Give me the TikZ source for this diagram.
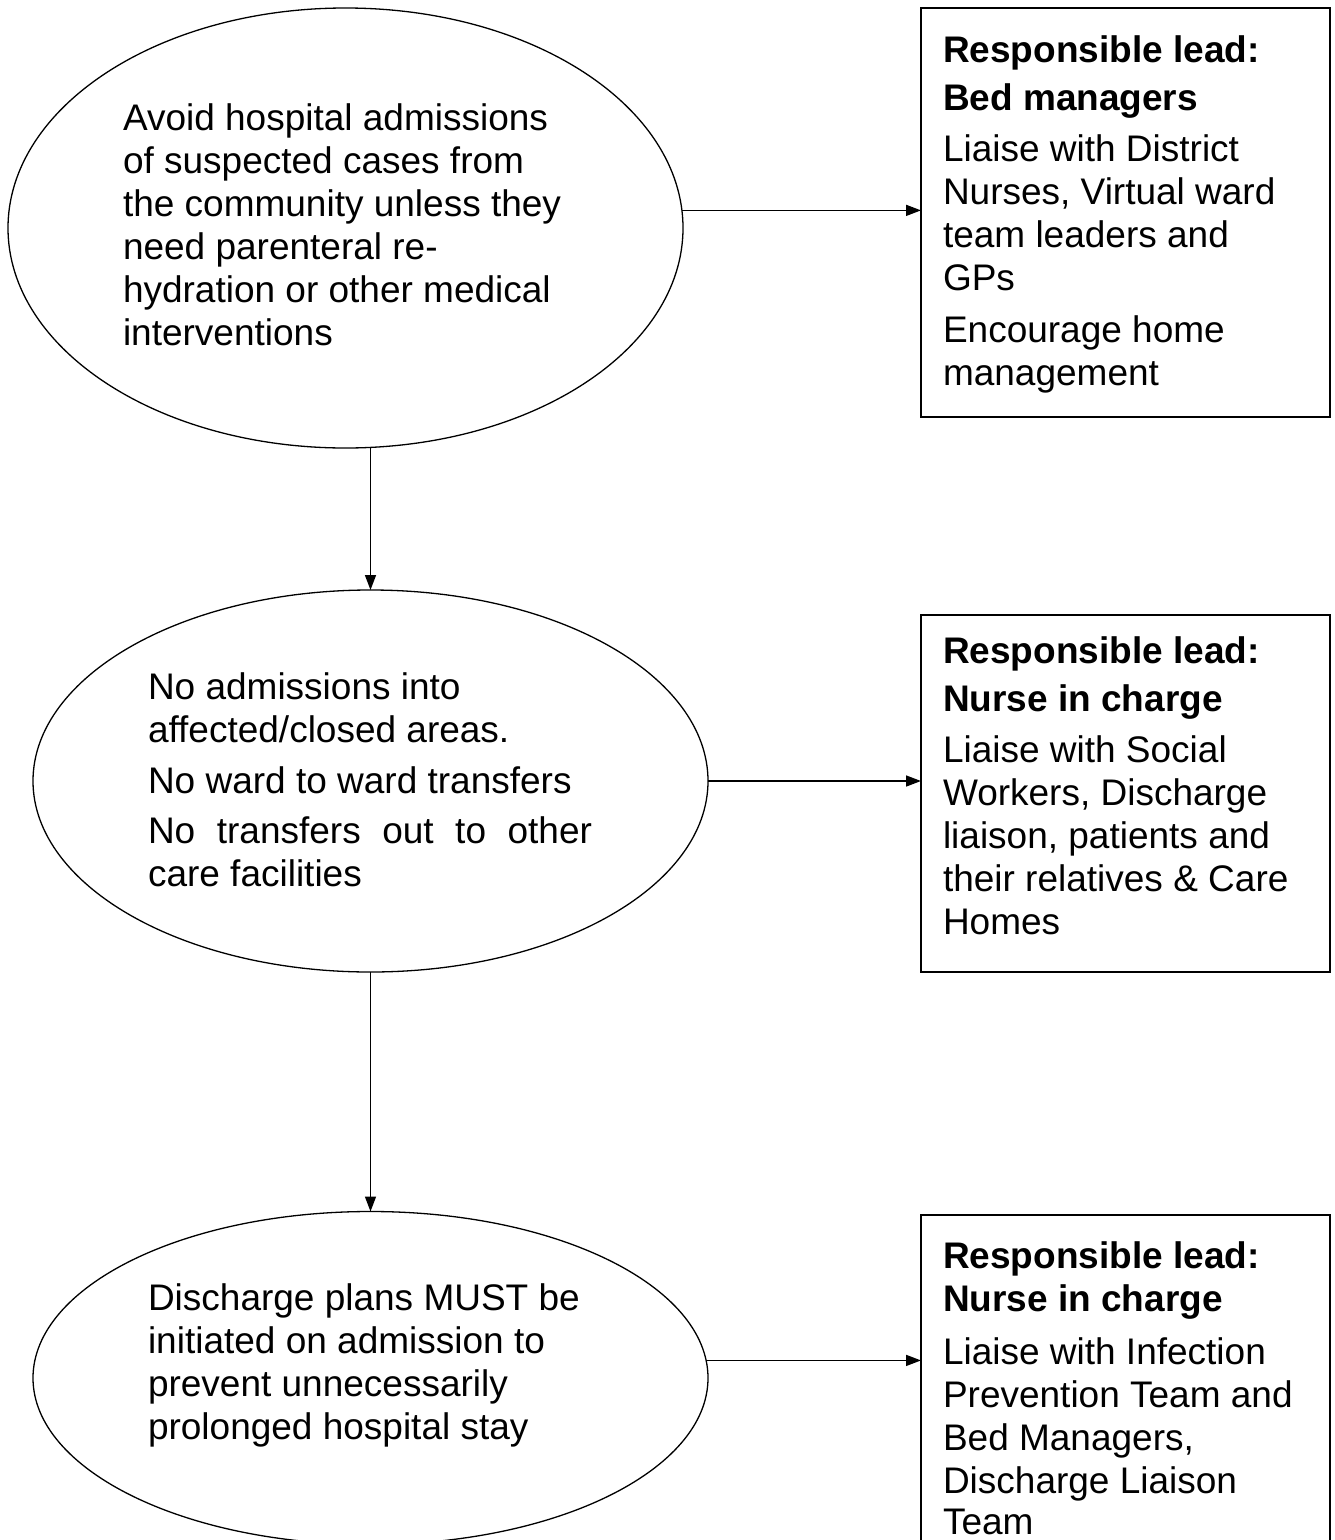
\documentclass[tikz,border=0pt]{standalone}
\usepackage{fontspec}
\setmainfont{Liberation Sans}
\usetikzlibrary{arrows.meta,shapes.geometric}
\begin{document}
\begin{tikzpicture}[x=1pt,y=-1pt,
  oval/.style={draw, ellipse, line width=1.3pt, inner sep=0pt, outer sep=0pt, minimum width=675pt},
  leadbox/.style={draw, rectangle, line width=1.8pt, inner sep=0pt, outer sep=0pt, minimum width=409pt, anchor=north west},
  txt/.style={anchor=base west, inner sep=0pt, outer sep=0pt, font=\fontsize{37}{43}\selectfont},
  link/.style={line width=1.5pt, -{Triangle[length=15pt,width=11pt]}}
]
\clip (0,0) rectangle (1334,1540);
% ellipses
\node[oval, minimum height=440pt] (e1) at (345.5,228) {};
\node[oval, minimum height=382pt] (e2) at (370.5,781) {};
\node[oval, minimum height=333pt] (e3) at (370.5,1378) {};
% boxes
\node[leadbox, minimum height=409pt] (b1) at (921,8) {};
\node[leadbox, minimum height=357pt] (b2) at (921,615) {};
\node[leadbox, minimum height=400pt] (b3) at (921,1215) {};
% ellipse texts
\node[txt] (t1) at (123,130) {\parbox[t]{580pt}{\raggedright Avoid hospital admissions\\ of suspected cases from\\ the community unless they\\ need parenteral re-\\ hydration or other medical\\ interventions}};
\node[txt] (t2) at (148,699) {\parbox[t]{444pt}{\raggedright No admissions into\\ affected/closed areas.\\[8pt] No ward to ward transfers\\[7pt] \makebox[444pt][s]{No transfers out to other}\\ care facilities}};
\node[txt] (t3) at (148,1310) {\parbox[t]{520pt}{\raggedright Discharge plans MUST be\\ initiated on admission to\\ prevent unnecessarily\\ prolonged hospital stay}};
% box texts
\node[txt] (s1) at (943,62) {\parbox[t]{380pt}{\raggedright \textbf{Responsible lead:}\\[5pt] \textbf{Bed managers}\\[8pt] Liaise with District\\ Nurses, Virtual ward\\ team leaders and\\ GPs\\[9pt] Encourage home\\ management}};
\node[txt] (s2) at (943,663) {\parbox[t]{380pt}{\raggedright \textbf{Responsible lead:}\\[5pt] \textbf{Nurse in charge}\\[8pt] Liaise with Social\\ Workers, Discharge\\ liaison, patients and\\ their relatives \& Care\\ Homes}};
\node[txt] (s3) at (943,1268) {\parbox[t]{380pt}{\raggedright \textbf{Responsible lead:}\\ \textbf{Nurse in charge}\\[10pt] Liaise with Infection\\ Prevention Team and\\ Bed Managers,\\ Discharge Liaison\\[-2pt] Team}};
% connectors
\draw[link] (e1.3) -- (e1.3 -| b1.west);
\draw[link] (e2.east) -- (e2.east -| b2.west);
\draw[link] (e3.3) -- (e3.3 -| b3.west);
\draw[link] (e1.south -| e2.north) -- (e2.north);
\draw[link] (e2.south) -- (e3.north);
\end{tikzpicture}
\end{document}
